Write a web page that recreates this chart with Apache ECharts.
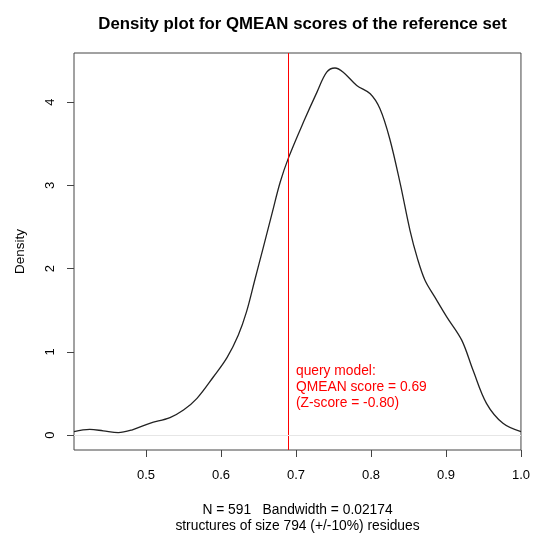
<!DOCTYPE html>
<html>
<head>
<meta charset="utf-8">
<script src="https://cdn.jsdelivr.net/npm/echarts@6/dist/echarts.min.js"></script>
<style>
  html, body { margin: 0; padding: 0; background: #fff; }
  #main { width: 533px; height: 533px; }
</style>
</head>
<body>
<div id="main"></div>
<script>
// density curve (x = QMEAN score, y = density)
var scoreX = [0.404, 0.425, 0.443, 0.463, 0.481, 0.505, 0.532, 0.55, 0.568, 0.59,
  0.608, 0.623, 0.634, 0.645, 0.656, 0.668, 0.679, 0.69, 0.71, 0.728,
  0.741, 0.752, 0.763, 0.781, 0.799, 0.812, 0.825, 0.839, 0.852, 0.862,
  0.872, 0.885, 0.901, 0.921, 0.936, 0.954, 0.976, 1.0];
var densityY = [0.04, 0.068, 0.05, 0.028, 0.06, 0.14, 0.21, 0.30, 0.44, 0.70,
  0.93, 1.20, 1.48, 1.86, 2.24, 2.66, 3.04, 3.33, 3.76, 4.12,
  4.36, 4.41, 4.36, 4.20, 4.10, 3.92, 3.56, 3.02, 2.46, 2.12,
  1.86, 1.66, 1.42, 1.14, 0.78, 0.38, 0.14, 0.04];

var xTicks = [0.5, 0.6, 0.7, 0.8, 0.9, 1.0];
var yTicks = [0, 1, 2, 3, 4];
var queryScore = 0.69;
var queryText = ['query model:', 'QMEAN score = 0.69', '(Z-score = -0.80)'];
var footLines = ['N = 591   Bandwidth = 0.02174', 'structures of size 794 (+/-10%) residues'];

var chart = echarts.init(document.getElementById('main'), null, { renderer: 'canvas' });

var font = 'Liberation Sans, Arial, sans-serif';
var axisCol = '#444';

var option = {
  animation: false,
  textStyle: { fontFamily: font },
  title: {
    text: 'Density plot for QMEAN scores of the reference set',
    left: 297.5,
    textAlign: 'center',
    top: 11,
    textStyle: { fontSize: 16.8, fontWeight: 'bold', color: '#000', fontFamily: font }
  },
  grid: {
    left: 74, right: 12, top: 53, bottom: 83,
    show: true, borderColor: axisCol, borderWidth: 1, backgroundColor: 'transparent'
  },
  xAxis: {
    type: 'value',
    min: 0.404,
    max: 1.0,
    splitLine: { show: false },
    axisLine: { show: false, onZero: false },
    axisTick: { show: true, length: 7, customValues: xTicks, lineStyle: { color: axisCol } },
    axisLabel: {
      customValues: xTicks, margin: 19, color: '#000', fontSize: 13,
      formatter: function (v) { return v.toFixed(1); }
    }
  },
  yAxis: {
    type: 'value',
    min: -0.18,
    max: 4.59,
    name: 'Density',
    nameLocation: 'middle',
    nameGap: 47,
    nameRotate: 90,
    nameTextStyle: { color: '#000', fontSize: 13.5 },
    splitLine: { show: false },
    axisLine: { show: false, onZero: false },
    axisTick: { show: true, length: 7, customValues: yTicks, lineStyle: { color: axisCol } },
    axisLabel: { customValues: yTicks, rotate: 90, margin: 17, color: '#000', fontSize: 13 }
  },
  series: [{
    type: 'line',
    data: scoreX.map(function (x, i) { return [x, densityY[i]]; }),
    smooth: 0.35,
    showSymbol: false,
    lineStyle: { color: '#222', width: 1.3 },
    markLine: {
      silent: true,
      symbol: 'none',
      label: { show: false },
      data: [
        { xAxis: queryScore, lineStyle: { color: '#ff0000', width: 1, type: 'solid' } },
        { yAxis: 0, lineStyle: { color: '#e6e6e6', width: 1, type: 'solid' } }
      ]
    }
  }],
  graphic: [
    {
      type: 'text', x: 296, y: 363,
      style: { text: queryText.join('\n'), fill: '#ff0000', font: '13.8px ' + font, lineHeight: 16 }
    },
    {
      type: 'text', x: 297.5, y: 502,
      style: { text: footLines.join('\n'), fill: '#000', font: '13.8px ' + font, lineHeight: 16, align: 'center' }
    }
  ]
};

chart.setOption(option);
</script>
</body>
</html>
